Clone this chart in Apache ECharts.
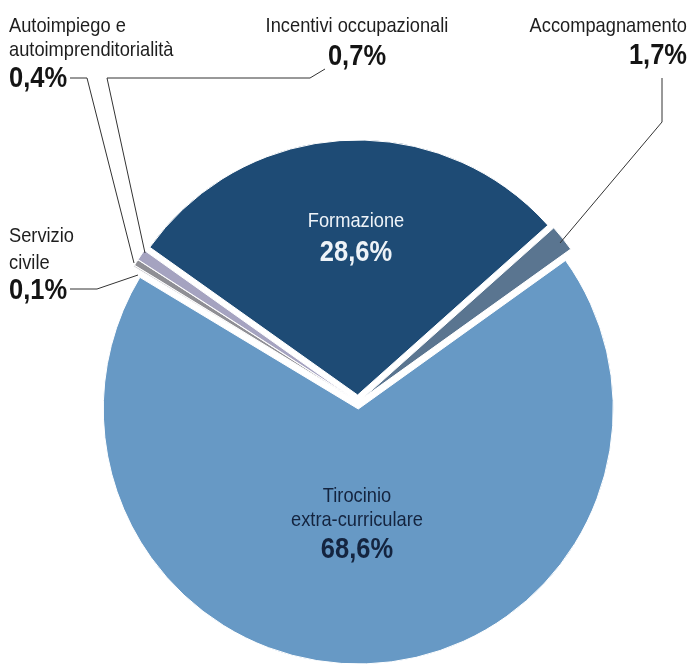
<!DOCTYPE html>
<html>
<head>
<meta charset="utf-8">
<script src="https://cdn.jsdelivr.net/npm/echarts@6/dist/echarts.min.js"></script>
<style>
html,body{margin:0;padding:0;background:#fff;}
#c{width:692px;height:665px;}
</style>
</head>
<body>
<div id="c"></div>
<script>
var categories = ['Formazione', 'Accompagnamento', 'Tirocinio extra-curriculare', 'Servizio civile', 'Autoimpiego e autoimprenditorialità', 'Incentivi occupazionali'];
var labelNames = ['Formazione', 'Accompagnamento', 'Tirocinio\nextra-curriculare', 'Servizio\ncivile', 'Autoimpiego e\nautoimprenditorialità', 'Incentivi occupazionali'];
var values = [28.6, 1.7, 68.6, 0.1, 0.4, 0.7];

var colors = ['#1e4b75', '#5a7590', '#6799c5', '#c9c9cf', '#8f8f95', '#a5a3c0'];
var FONT = "'Liberation Sans', Arial, sans-serif";

// label placement (style, not data): anchor x, alignment, baselines of each name line and of the value
var place = [
  {x: 356, align: 'center', names: [228], val: 262, color: '#eef3f8'},
  {x: 687, align: 'right', names: [33], val: 65, pts: [[560, 243], [662, 122], [662, 78]]},
  {x: 357, align: 'center', names: [503, 527], val: 559, color: '#14243f'},
  {x: 9, align: 'left', names: [243, 270], val: 300, pts: [[138, 275], [97, 289], [70, 289]]},
  {x: 9, align: 'left', names: [33, 57], val: 88, pts: [[134, 263], [87, 78], [70, 78]]},
  {x: 357, align: 'center', names: [33], val: 66, pts: [[145, 253], [107, 78], [310, 78], [325, 69]]}
];

function fmt(v) { return v.toFixed(1).replace('.', ',') + '%'; }

var data = categories.map(function (c, i) {
  return {name: c, value: values[i], selected: true, itemStyle: {color: colors[i]}};
});

var graphics = [];
place.forEach(function (pl, i) {
  var lines = labelNames[i].split('\n');
  var col = pl.color || '#1e1e1e';
  lines.forEach(function (s, k) {
    graphics.push({
      type: 'text', silent: true, z: 100, x: pl.x, y: pl.names[k] - 6.5, scaleX: 0.87,
      style: {text: s, font: '21px ' + FONT, fill: col, textAlign: pl.align, textVerticalAlign: 'middle'}
    });
  });
  graphics.push({
    type: 'text', silent: true, z: 100, x: pl.x, y: pl.val - 9.3, scaleX: 0.85,
    style: {text: fmt(values[i]), font: 'bold 30px ' + FONT, fill: pl.color || '#141414', textAlign: pl.align, textVerticalAlign: 'middle'}
  });
  if (pl.pts) {
    graphics.push({
      type: 'polyline', silent: true, z: 100,
      shape: {points: pl.pts},
      style: {stroke: '#333', lineWidth: 1, fill: null}
    });
  }
});

var chart = echarts.init(document.getElementById('c'), null, {renderer: 'canvas'});
chart.setOption({
  animation: false,
  series: [{
    type: 'pie',
    z: 1,
    center: [358, 402],
    radius: 255,
    startAngle: 144.6,
    clockwise: true,
    selectedMode: 'multiple',
    selectedOffset: 7,
    avoidLabelOverlap: false,
    itemStyle: {borderColor: '#fff', borderWidth: 1},
    emphasis: {disabled: true},
    label: {show: false},
    labelLine: {show: false},
    data: data
  }],
  graphic: graphics
});
</script>
</body>
</html>
